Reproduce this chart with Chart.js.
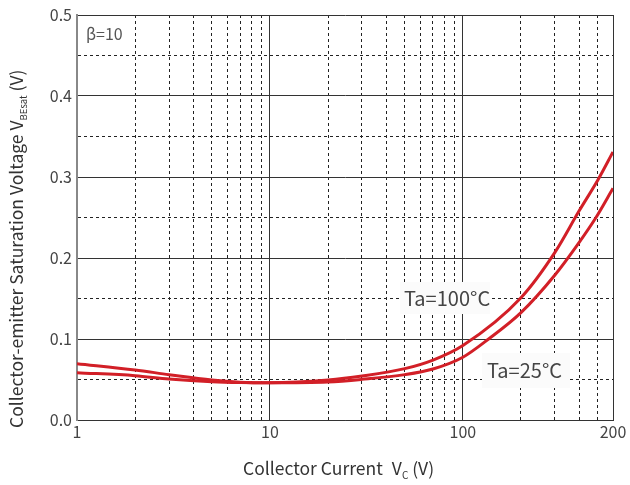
<!DOCTYPE html>
<html><head><meta charset="utf-8">
<script src="https://cdn.jsdelivr.net/npm/chart.js@4"></script>
<style>html,body{margin:0;padding:0;background:#fff}#wrap{width:630px;height:485px;position:relative}</style>
</head><body><div id="wrap"><canvas id="c"></canvas></div>
<script>
// Collector current positions (axis as drawn in the reference) and V values
const current25 = [1, 2, 3, 5, 7, 10, 20, 30, 50, 70, 100, 136, 200, 300, 400, 487, 600];
const vTa25     = [0.0695, 0.0617, 0.0560, 0.0494, 0.0467, 0.0460, 0.0470, 0.0502, 0.0560, 0.0630, 0.0775, 0.1000, 0.1325, 0.1790, 0.2190, 0.2490, 0.2860];
const current100 = [1, 2, 3, 5, 7, 10, 20, 30, 50, 70, 100, 200, 300, 400, 500, 600];
const vTa100     = [0.0584, 0.0547, 0.0506, 0.0473, 0.0463, 0.0460, 0.0494, 0.0543, 0.0634, 0.0740, 0.0920, 0.1510, 0.2070, 0.2580, 0.2960, 0.3310];
const xGridValues = [1,2,3,4,5,6,7,8,9,10,20,30,40,50,60,70,80,90,100,200,300,400,500,600];
const xMajorValues = [1, 10, 100, 600];
const xTickLabels = ['1', '10', '100', '200'];
const yTickValues = [0, 0.1, 0.2, 0.3, 0.4, 0.5];
const yTickLabels = ['0.0', '0.1', '0.2', '0.3', '0.4', '0.5'];
const seriesNames = ['Ta=25°C', 'Ta=100°C'];

const FONT = "'Noto Sans CJK JP', 'Noto Sans', sans-serif";
const RED = '#d21f27';

const isMajorY = v => yTickValues.some(t => Math.abs(t - v) < 1e-6);

function drawParts(ctx, parts, x0, y0) {
  let x = x0;
  parts.forEach(p => {
    x += (p.gap || 0);
    ctx.font = p.size + 'px ' + FONT;
    ctx.fillText(p.t, x, y0 + (p.dy || 0));
    x += ctx.measureText(p.t).width;
  });
  return x - x0;
}

const overlay = {
  id: 'overlay',
  beforeDatasetsDraw(chart) {
    const ctx = chart.ctx;
    ctx.save();
    ctx.fillStyle = '#fbfbfb';
    ctx.fillRect(400, 282, 90, 32);
    ctx.fillRect(482, 353, 88, 35);
    ctx.fillStyle = '#444';
    ctx.font = '20px ' + FONT;
    ctx.textBaseline = 'middle';
    ctx.textAlign = 'left';
    ctx.fillText(seriesNames[1], 404, 298);
    ctx.fillText(seriesNames[0], 487, 370);
    ctx.font = '16px ' + FONT;
    ctx.fillStyle = '#555';
    ctx.fillText('β=10', 86, 34);
    ctx.restore();
  },
  afterDraw(chart) {
    const ctx = chart.ctx;
    ctx.save();
    ctx.fillStyle = '#333';
    ctx.textBaseline = 'alphabetic';
    ctx.textAlign = 'left';
    // x title
    const xp = [{t:'Collector', size:17.5}, {t:'Current', size:17.5, gap:4}, {t:'V', size:17.5, gap:9}, {t:'C', size:10, dy:4}, {t:' (V)', size:17.5}];
    drawParts(ctx, xp, 243, 475);
    // y title
    const yp = [{t:'Collector-emitter Saturation Voltage V', size:17.5}, {t:'BEsat', size:9.5, dy:4}, {t:' (V)', size:17.5}];
    ctx.translate(23, 428);
    ctx.rotate(-Math.PI / 2);
    drawParts(ctx, yp, 0, 0);
    ctx.restore();
  }
};

new Chart(document.getElementById('c'), {
  type: 'line',
  data: {
    datasets: [
      { label: seriesNames[0], data: current25.map((c, i) => ({x: c, y: vTa25[i]})) },
      { label: seriesNames[1], data: current100.map((c, i) => ({x: c, y: vTa100[i]})) }
    ].map(d => Object.assign(d, { borderColor: RED, borderWidth: 3, pointRadius: 0, cubicInterpolationMode: 'monotone', fill: false }))
  },
  options: {
    responsive: true, maintainAspectRatio: false, animation: false,
    layout: { padding: { top: 15, right: 17, left: 0, bottom: 0 } },
    plugins: { legend: { display: false }, tooltip: { enabled: false } },
    scales: {
      x: {
        type: 'logarithmic', min: 1, max: 600,
        afterBuildTicks: s => { s.ticks = xGridValues.map(v => ({ value: v, major: xMajorValues.includes(v) })); },
        afterFit: s => { s.height = 65; },
        ticks: {
          autoSkip: false, maxRotation: 0, padding: 2, color: '#444', font: { family: FONT, size: 16 },
          callback: v => { const i = xMajorValues.indexOf(v); return i >= 0 ? xTickLabels[i] : ''; }
        },
        grid: {
          drawTicks: false, lineWidth: 1,
          color: c => (c.tick && xMajorValues.includes(c.tick.value)) ? '#333' : '#222'
        },
        border: {
          color: '#333', width: 1,
          dash: c => (c.tick && !xMajorValues.includes(c.tick.value)) ? [3, 3] : []
        }
      },
      y: {
        min: 0, max: 0.5,
        ticks: {
          stepSize: 0.05, padding: 5, color: '#444', font: { family: FONT, size: 16 },
          callback: v => { const i = yTickValues.findIndex(t => Math.abs(t - v) < 1e-6); return i >= 0 ? yTickLabels[i] : ''; }
        },
        afterFit: s => { s.width = 77; },
        grid: {
          drawTicks: false, lineWidth: 1,
          color: c => (c.tick && isMajorY(c.tick.value)) ? '#333' : '#222'
        },
        border: {
          color: '#888', width: 2,
          dash: c => (c.tick && !isMajorY(c.tick.value)) ? [3, 3] : []
        }
      }
    }
  },
  plugins: [overlay]
});
</script>
</body></html>
